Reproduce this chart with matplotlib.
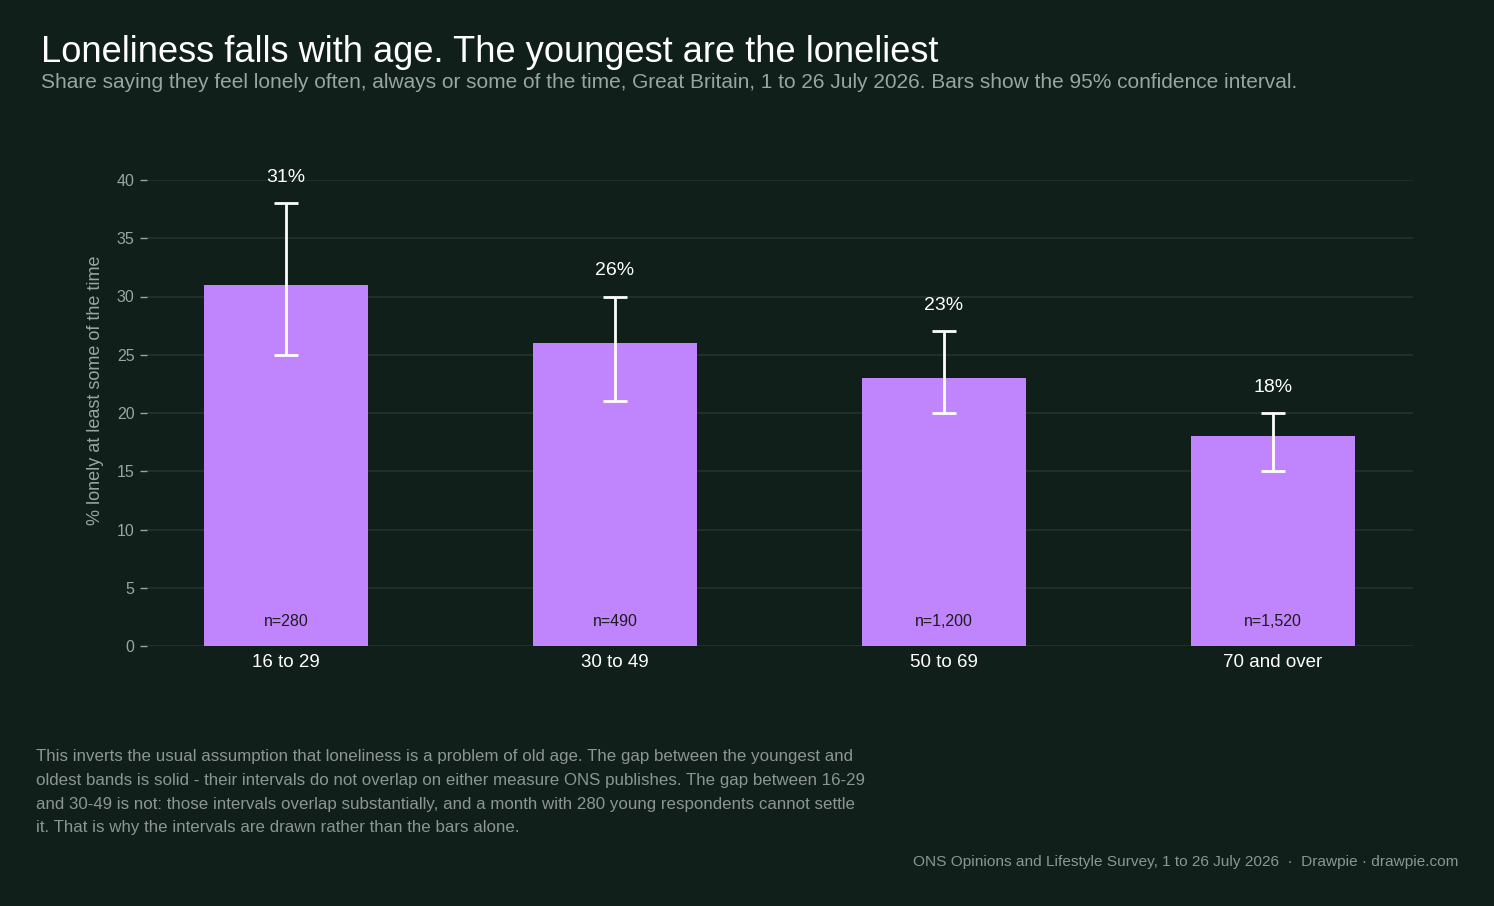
import matplotlib
matplotlib.use("Agg")
import matplotlib.pyplot as plt
import numpy as np

# данные
age_groups = ["16 to 29", "30 to 49", "50 to 69", "70 and over"]
lonely_pct = [31, 26, 23, 18]
ci_low = [25, 21, 20, 15]
ci_high = [38, 30, 27, 20]
sample_n = ["n=280", "n=490", "n=1,200", "n=1,520"]

BG = "#111f1a"
BAR = "#c084fc"
GRID = "#26322d"
MUTED = "#9aa59f"

plt.rcParams["font.family"] = ["Liberation Sans", "DejaVu Sans"]

fig = plt.figure(figsize=(14.94, 9.06), dpi=100, facecolor=BG)
ax = fig.add_axes([147 / 1494, 1 - 646 / 906, (1413 - 147) / 1494, (646 - 180) / 906])
ax.set_facecolor(BG)

x = np.arange(len(age_groups))
ax.bar(x, lonely_pct, width=0.5, color=BAR, zorder=2)

err = [np.array(lonely_pct) - np.array(ci_low), np.array(ci_high) - np.array(lonely_pct)]
ax.errorbar(x, lonely_pct, yerr=err, fmt="none", ecolor="white", elinewidth=2,
            capsize=8.6, capthick=2, zorder=3)

for xi, v, hi, n in zip(x, lonely_pct, ci_high, sample_n):
    ax.annotate(f"{v}%", (xi, hi), xytext=(0, 18.5), textcoords="offset points",
                ha="center", va="center", color="white", fontsize=14, clip_on=False)
    ax.annotate(n, (xi, 0), xytext=(0, 17.5), textcoords="offset points",
                ha="center", va="center", color="#1c1c1c", fontsize=11.5)

ax.set_xlim(-0.4225, 3.4255)
ax.set_ylim(0, 40)
ax.set_yticks(range(0, 41, 5))
ax.set_xticks(x)
ax.set_xticklabels(age_groups)
ax.tick_params(axis="x", length=0, colors="white", labelsize=13.5, pad=6)
ax.tick_params(axis="y", length=5, width=1, colors=MUTED, labelsize=11.5, pad=4)
ax.grid(axis="y", color=GRID, linewidth=1.2, zorder=0)
ax.set_axisbelow(True)
for s in ax.spines.values():
    s.set_visible(False)

fig.text(96 / 1494, 1 - 390 / 906, "% lonely at least some of the time", color=MUTED,
         fontsize=13, rotation=90, ha="center", va="center")

fig.text(41 / 1494, 1 - 53 / 906, "Loneliness falls with age. The youngest are the loneliest",
         color="white", fontsize=26.1, va="center", ha="left")
fig.text(41 / 1494, 1 - 83 / 906,
         "Share saying they feel lonely often, always or some of the time, Great Britain, 1 to 26 July 2026. "
         "Bars show the 95% confidence interval.",
         color=MUTED, fontsize=15, va="center", ha="left")

note = ("This inverts the usual assumption that loneliness is a problem of old age. The gap between the youngest and\n"
        "oldest bands is solid - their intervals do not overlap on either measure ONS publishes. The gap between 16-29\n"
        "and 30-49 is not: those intervals overlap substantially, and a month with 280 young respondents cannot settle\n"
        "it. That is why the intervals are drawn rather than the bars alone.")
fig.text(36 / 1494, 1 - 749.5 / 906, note, color="#8c9691", fontsize=12.2, va="top", ha="left",
         linespacing=1.72)
fig.text(1458 / 1494, 1 - 862 / 906,
         "ONS Opinions and Lifestyle Survey, 1 to 26 July 2026  \u00b7  Drawpie \u00b7 drawpie.com",
         color="#8c9691", fontsize=11.05, va="center", ha="right")

fig.savefig("out.png", dpi=100, facecolor=BG)
